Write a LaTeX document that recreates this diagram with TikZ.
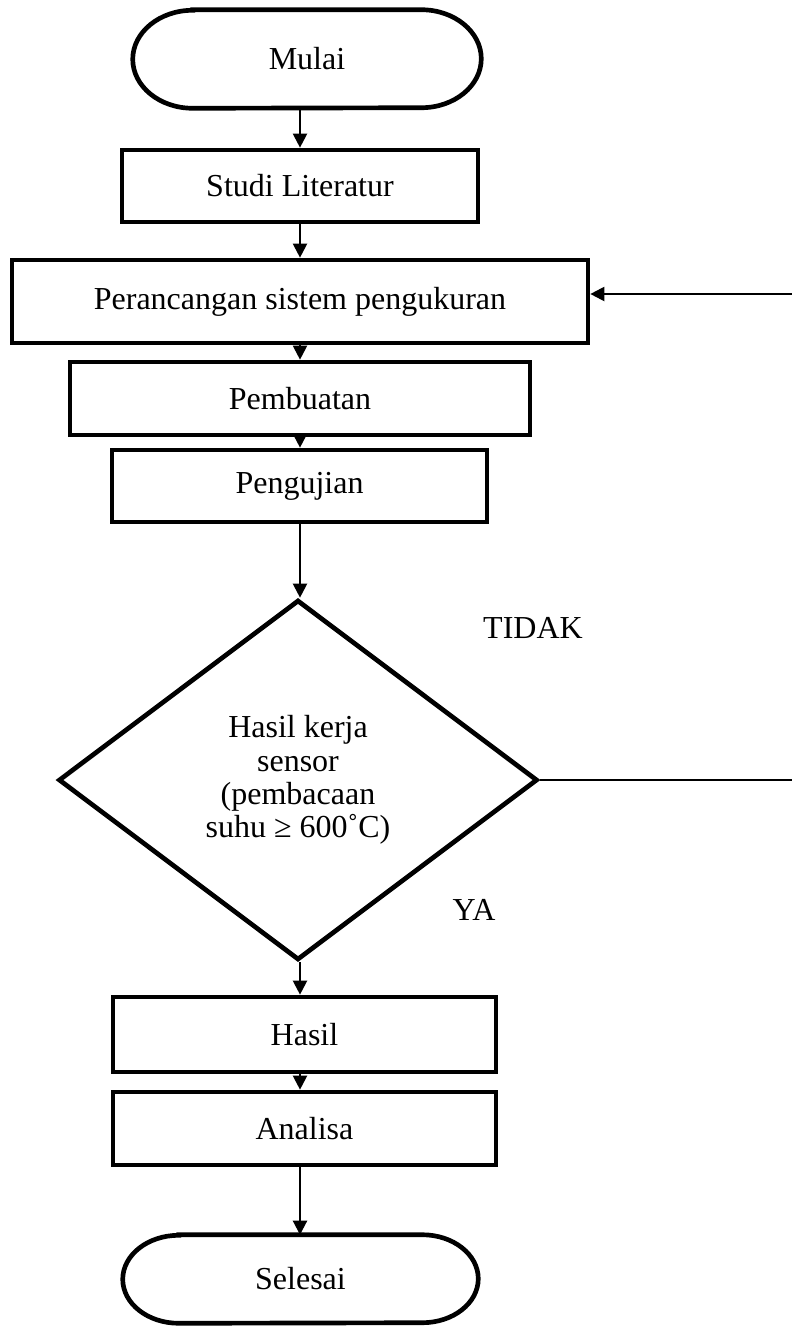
\documentclass[tikz,border=0pt]{standalone}
\usepackage{fontspec}
\setmainfont{Liberation Serif}
\usetikzlibrary{shapes.geometric,arrows.meta}
\newcommand\mystadium[3]{%
  \draw[line width=3.5pt] ([xshift=#2]#1.north west) -- ([xshift=-#2]#1.north east)
    arc[start angle=90,end angle=-90,x radius=#2,y radius=#3]
    -- ([xshift=#2]#1.south west)
    arc[start angle=270,end angle=90,x radius=#2,y radius=#3] -- cycle;}
\begin{document}
\begin{tikzpicture}[x=0.75pt,y=-0.75pt,
  txt/.style={font=\fontsize{24}{25}\selectfont},
  box/.style={draw,line width=3.5pt,inner sep=0pt,txt},
  term/.style={inner sep=0pt,txt},
  decision/.style={diamond,draw,line width=3.5pt,inner sep=0pt,txt,align=center,line join=miter},
  arr/.style={line width=1.6pt,-{Triangle[length=10.5pt,width=10.5pt]}},
  line/.style={line width=1.6pt}]
\useasboundingbox (0,0) rectangle (792,1331);
\node[term,minimum width=261pt,minimum height=73.5pt] (mulai) at (307,59) {Mulai};
\mystadium{mulai}{45pt}{36.75pt}
\node[box,minimum width=267pt,minimum height=54pt] (studi) at (300,186) {Studi Literatur};
\node[box,minimum width=432pt,minimum height=62.25pt] (peran) at (300,301.5) {Perancangan sistem pengukuran};
\node[box,minimum width=345pt,minimum height=54.75pt] (pemb) at (300,398.5) {Pembuatan};
\node[box,minimum width=281.25pt,minimum height=54pt] (peng) at (299.5,486) {Pengujian};
\node[decision,minimum width=359.25pt,minimum height=270pt] (dec) at (298,780) {Hasil kerja\\sensor\\(pembacaan\\suhu ≥ 600˚C)};
\node[box,minimum width=287.25pt,minimum height=56.25pt] (hasil) at (304.5,1034.5) {Hasil};
\node[box,minimum width=287.25pt,minimum height=54.75pt] (analisa) at (304.5,1128.5) {Analisa};
\node[term,minimum width=266.25pt,minimum height=66pt] (sel) at (300.5,1279) {Selesai};
\mystadium{sel}{42pt}{33pt}
\node[txt] (tidak) at (533,628) {TIDAK};
\node[txt] (ya) at (474,910) {YA};
\coordinate (r1) at (792,780);
\coordinate (r2) at (792,294);
\draw[arr] (mulai.south -| studi.north) -- (studi.north);
\draw[arr] (studi.south) -- (peran.north);
\draw[arr] (peran.south) -- (pemb.north);
\draw[arr] (pemb.south) -- (pemb.south |- peng.north);
\draw[arr] (peng.south -| pemb.south) -- (pemb.south |- dec.north);
\draw[arr] (dec.south -| pemb.south) -- (pemb.south |- hasil.north);
\draw[arr] (hasil.south -| pemb.south) -- (pemb.south |- analisa.north);
\draw[arr] (analisa.south -| pemb.south) -- (pemb.south |- sel.north);
\draw[line] (dec.east) -- (r1);
\draw[arr] (r2) -- (r2 -| peran.east);
\end{tikzpicture}
\end{document}
